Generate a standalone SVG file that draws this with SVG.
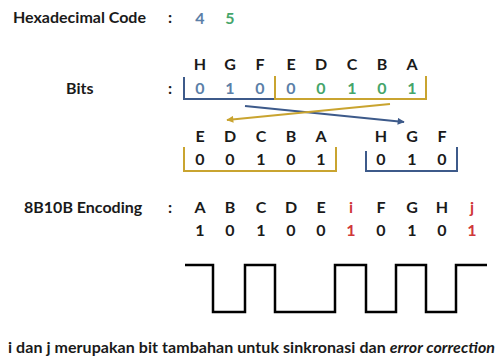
<svg xmlns="http://www.w3.org/2000/svg" width="499" height="358" viewBox="0 0 499 358">
<style>
text{font-family:Lato,"Liberation Sans",sans-serif;font-weight:bold;font-size:16px;fill:#1a1a1a}
.c{text-anchor:middle}
.b{fill:#5b7fa8}
.g{fill:#45a56a}
.r{fill:#d0383a}
.bb{stroke:#3d5a8a;stroke-width:2;fill:none}
.yb{stroke:#c9a430;stroke-width:2;fill:none}
.wave{stroke:#000;stroke-width:2.5;fill:none}
</style>
<defs>
<marker id="ab" viewBox="0 0 10 10" refX="9" refY="5" markerWidth="8" markerHeight="7" orient="auto" markerUnits="userSpaceOnUse"><path d="M0,0L10,5L0,10z" fill="#3d5a8a"/></marker>
<marker id="ay" viewBox="0 0 10 10" refX="9" refY="5" markerWidth="8" markerHeight="7" orient="auto" markerUnits="userSpaceOnUse"><path d="M0,0L10,5L0,10z" fill="#c9a430"/></marker>
</defs>
<rect width="499" height="358" fill="#fff"/>
<g id="hex">
<text x="13" y="23">Hexadecimal Code</text>
<text x="170" y="23" class="c">:</text>
<text x="200" y="24" class="c b">4</text>
<text x="230" y="24" class="c g">5</text>
</g>
<g id="bits">
<text x="66" y="94">Bits</text>
<text x="170" y="94" class="c">:</text>
<text x="200" y="70" class="c">H</text>
<text x="230" y="70" class="c">G</text>
<text x="260" y="70" class="c">F</text>
<text x="291" y="70" class="c">E</text>
<text x="321" y="70" class="c">D</text>
<text x="352" y="70" class="c">C</text>
<text x="382" y="70" class="c">B</text>
<text x="412" y="70" class="c">A</text>
<text x="200" y="94" class="c b">0</text>
<text x="230" y="94" class="c b">1</text>
<text x="260" y="94" class="c b">0</text>
<text x="291" y="94" class="c b">0</text>
<text x="321" y="94" class="c g">0</text>
<text x="352" y="94" class="c g">1</text>
<text x="382" y="94" class="c g">0</text>
<text x="412" y="94" class="c g">1</text>
<path class="bb" d="M184,77V99H275"/>
<path class="yb" d="M275,76V99H426V76"/>
</g>
<g id="low">
<text x="200" y="142" class="c">E</text>
<text x="230" y="142" class="c">D</text>
<text x="261" y="142" class="c">C</text>
<text x="291" y="142" class="c">B</text>
<text x="321" y="142" class="c">A</text>
<text x="200" y="165" class="c">0</text>
<text x="230" y="165" class="c">0</text>
<text x="261" y="165" class="c">1</text>
<text x="291" y="165" class="c">0</text>
<text x="321" y="165" class="c">1</text>
<path class="yb" d="M184,147V171H336V147"/>
</g>
<g id="high">
<text x="381" y="142" class="c">H</text>
<text x="412" y="142" class="c">G</text>
<text x="442" y="142" class="c">F</text>
<text x="381" y="165" class="c">0</text>
<text x="412" y="165" class="c">1</text>
<text x="442" y="165" class="c">0</text>
<path class="bb" d="M366,151V171H457V147"/>
</g>
<g id="connectors">
<line class="bb" x1="245" y1="106" x2="404" y2="122" stroke-width="1.5" marker-end="url(#ab)"/>
<line class="yb" x1="390" y1="104" x2="227" y2="120" stroke-width="1.5" marker-end="url(#ay)"/>
</g>
<g id="enc">
<text x="24" y="213">8B10B Encoding</text>
<text x="170" y="213" class="c">:</text>
<text x="200" y="213" class="c">A</text>
<text x="230" y="213" class="c">B</text>
<text x="261" y="213" class="c">C</text>
<text x="291" y="213" class="c">D</text>
<text x="321" y="213" class="c">E</text>
<text x="351" y="213" class="c r">i</text>
<text x="381" y="213" class="c">F</text>
<text x="412" y="213" class="c">G</text>
<text x="442" y="213" class="c">H</text>
<text x="472" y="213" class="c r">j</text>
<text x="200" y="236" class="c">1</text>
<text x="230" y="236" class="c">0</text>
<text x="261" y="236" class="c">1</text>
<text x="291" y="236" class="c">0</text>
<text x="321" y="236" class="c">0</text>
<text x="351" y="236" class="c r">1</text>
<text x="381" y="236" class="c">0</text>
<text x="412" y="236" class="c">1</text>
<text x="442" y="236" class="c">0</text>
<text x="472" y="236" class="c r">1</text>
</g>
<g id="waveform">
<path class="wave" d="M185,265H213V312H245V265H275V312H335V265H366V312H396V265H426V312H456V265H487"/>
</g>
<g id="note">
<text x="8" y="353" textLength="487" lengthAdjust="spacing">i dan j merupakan bit tambahan untuk sinkronasi dan <tspan font-style="italic">error correction</tspan></text>
</g>
</svg>
